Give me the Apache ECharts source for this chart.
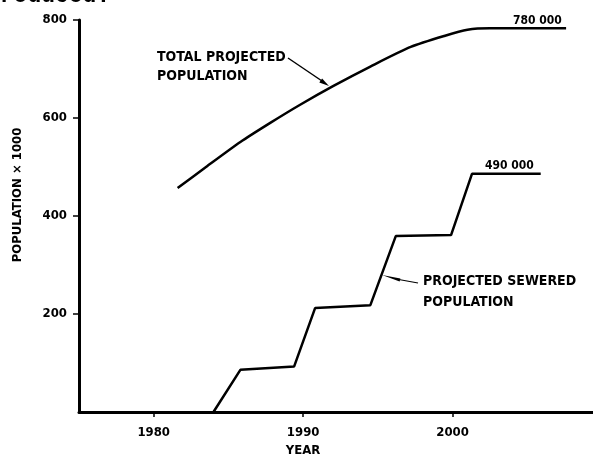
<!DOCTYPE html>
<html>
<head>
<meta charset="utf-8">
<script src="https://cdn.jsdelivr.net/npm/echarts@6/dist/echarts.min.js"></script>
<style>
  html, body { margin: 0; padding: 0; background: #fff; }
  #chart { width: 593px; height: 458px; }
</style>
</head>
<body>
<div id="chart"></div>
<script>
// ---- data ----
const xTickYears = [1980, 1990, 2000];
const yTickValues = [200, 400, 600, 800];

const totalYears  = [1981.6, 1983.5, 1985.8, 1987.8, 1989.8, 1992.0, 1994.5, 1997.2, 1999.5, 2001.0, 2002.5, 2007.6];
const totalValues = [457,    500,    551,    590,    627,    665,    705,    745,    768,    780,    783,    783];

const sewerYears  = [1984.0, 1985.8, 1989.4, 1990.8, 1994.5, 1996.2, 1999.9, 2001.3, 2005.9];
const sewerValues = [0,      86,     93,     212,    218,    359,    361,    486,    486];

const totalLabel = ['TOTAL PROJECTED', 'POPULATION'];
const sewerLabel = ['PROJECTED SEWERED', 'POPULATION'];
const totalEndLabel = '780 000';
const sewerEndLabel = '490 000';
const xName = 'YEAR';
const yName = 'POPULATION \u00d7 1000';

const FONT = "'DejaVu Sans Condensed', 'DejaVu Sans', sans-serif";

const chart = echarts.init(document.getElementById('chart'), null, { renderer: 'canvas' });

function pairs(xs, ys) { return xs.map((x, i) => [x, ys[i]]); }

const txt = (x, y, text, extra) => ({
  type: 'text', x: x, y: y,
  style: Object.assign({ text: text, fill: '#000', font: 'bold 14px ' + FONT, align: 'left', verticalAlign: 'middle' }, extra || {})
});

chart.setOption({
  animation: false,
  backgroundColor: '#fff',
  grid: { left: 79, right: 0, top: 20, bottom: 46, containLabel: false },
  xAxis: {
    type: 'value', min: 1975, max: 2009.4,
    axisLine: { show: true, onZero: false, lineStyle: { color: '#000', width: 3 } },
    axisTick: { show: true, customValues: xTickYears, length: 5, lineStyle: { color: '#000', width: 1.5 } },
    axisLabel: { customValues: xTickYears, formatter: v => String(v), color: '#000', fontFamily: FONT, fontWeight: 'bold', fontSize: 13, margin: 14 },
    splitLine: { show: false }
  },
  yAxis: {
    type: 'value', min: 0, max: 800,
    axisLine: { show: true, lineStyle: { color: '#000', width: 3 } },
    axisTick: { show: true, customValues: yTickValues, length: 6, lineStyle: { color: '#000', width: 1.5 } },
    axisLabel: { customValues: yTickValues, formatter: v => String(v), color: '#000', fontFamily: FONT, fontWeight: 'bold', fontSize: 13, margin: 12 },
    splitLine: { show: false }
  },
  series: [
    {
      name: 'Total projected population', type: 'line', data: pairs(totalYears, totalValues),
      smooth: 0.25, showSymbol: false, lineStyle: { color: '#000', width: 2.5 }
    },
    {
      name: 'Projected sewered population', type: 'line', data: pairs(sewerYears, sewerValues),
      smooth: false, showSymbol: false, lineStyle: { color: '#000', width: 2.5 }
    }
  ],
  graphic: [
    // clipped heading text from the scanned page
    { type: 'text', x: -14, y: -4, style: { text: 'produced:', fill: '#000', font: 'bold 23px "Liberation Mono", monospace', verticalAlign: 'middle' } },
    // y axis name
    { type: 'text', x: 18, y: 195, rotation: Math.PI / 2,
      style: { text: yName, fill: '#000', font: 'bold 13px ' + FONT, align: 'center', verticalAlign: 'middle' } },
    // x axis name
    { type: 'text', x: 303, y: 451, style: { text: xName, fill: '#000', font: 'bold 13px ' + FONT, align: 'center', verticalAlign: 'middle' } },
    // total label + leader
    txt(157, 57, totalLabel[0]),
    txt(157, 76, totalLabel[1]),
    { type: 'line', shape: { x1: 288, y1: 58, x2: 322, y2: 81 }, style: { stroke: '#000', lineWidth: 1.5 } },
    { type: 'polygon', shape: { points: [[329, 86], [319.3, 82.6], [322.1, 78.4]] }, style: { fill: '#000' } },
    // sewered label + leader
    txt(423, 281, sewerLabel[0]),
    txt(423, 302, sewerLabel[1]),
    { type: 'line', shape: { x1: 396, y1: 279, x2: 418, y2: 283 }, style: { stroke: '#000', lineWidth: 1.2 } },
    { type: 'polygon', shape: { points: [[382, 275], [400.4, 278.4], [399.6, 281.6]] }, style: { fill: '#000' } },
    // end-value labels
    txt(513, 21, totalEndLabel, { font: 'bold 12px ' + FONT }),
    txt(485, 166, sewerEndLabel, { font: 'bold 12px ' + FONT })
  ]
});
</script>
</body>
</html>
